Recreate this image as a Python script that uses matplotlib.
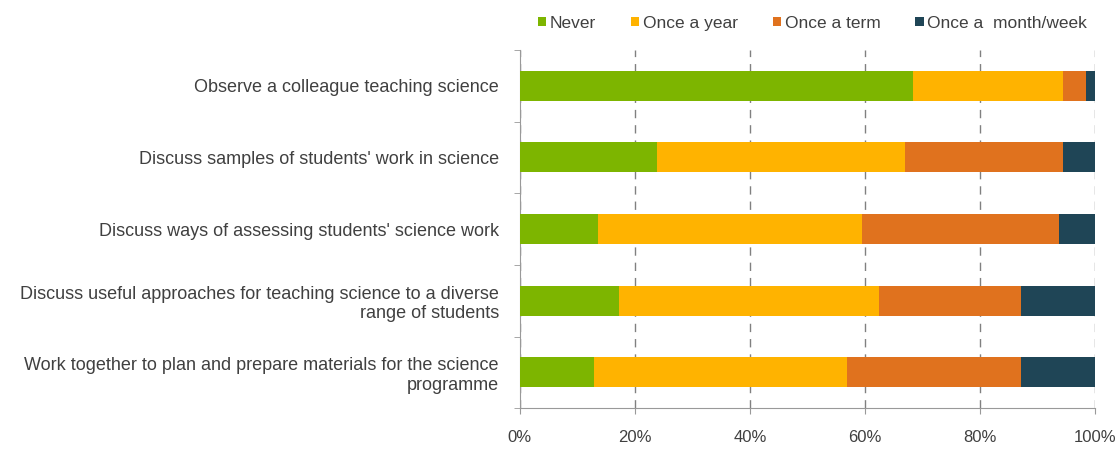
import numpy as np
import matplotlib
matplotlib.use("Agg")
import matplotlib.pyplot as plt
from matplotlib.patches import Patch

plt.rcParams["font.family"] = ["Liberation Sans", "DejaVu Sans"]

# Frequency of collaborative activities (% of teachers)
atividades = [
    "Observe a colleague teaching science",
    "Discuss samples of students' work in science",
    "Discuss ways of assessing students' science work",
    "Discuss useful approaches for teaching science to a diverse\nrange of students",
    "Work together to plan and prepare materials for the science\nprogramme",
]
never = [68.4, 23.9, 13.6, 17.2, 12.9]
once_year = [25.9, 43.1, 45.8, 45.2, 44.0]
once_term = [4.1, 27.4, 34.2, 24.6, 30.2]
month_week = [1.6, 5.6, 6.4, 13.0, 12.9]

series = ["Never", "Once a year", "Once a term", "Once a  month/week"]
cores = ["#7db500", "#ffb300", "#e0721e", "#1f4556"]
texto = "#404040"

fig = plt.figure(figsize=(11.2, 4.5), dpi=100)
ax = fig.add_axes([0.464, 0.093, 0.514, 0.796])

y = np.arange(len(atividades))
esquerda = np.zeros(len(atividades))
for nome, vals, cor in zip(series, [never, once_year, once_term, month_week], cores):
    ax.barh(y, vals, left=esquerda, height=0.42, color=cor, zorder=3)
    esquerda += np.array(vals)

ax.set_xlim(0, 100)
ax.set_ylim(len(atividades) - 0.5, -0.5)
ax.set_xticks(np.arange(0, 101, 20))
ax.set_xticklabels([f"{v}%" for v in range(0, 101, 20)], color=texto, fontsize=12)
ax.tick_params(axis="x", length=4, color="#999999", pad=12)

ax.set_yticks(y)
ax.set_yticklabels(atividades, color=texto, fontsize=13)
ax.tick_params(axis="y", which="major", length=0, pad=15)
ax.set_yticks(np.arange(-0.5, len(atividades) + 0.5, 1), minor=True)
ax.tick_params(axis="y", which="minor", length=4, color="#999999")

ax.grid(axis="x", linestyle=(0, (6, 5)), color="#808080", linewidth=1, zorder=0)
for lado in ["top", "right"]:
    ax.spines[lado].set_visible(False)
for lado in ["left", "bottom"]:
    ax.spines[lado].set_color("#999999")

handles = [Patch(facecolor=c, edgecolor="none") for c in cores]
fig.legend(handles, series, loc="upper left", bbox_to_anchor=(0.466, 1.0), ncol=4,
           frameon=False, fontsize=12.5, handlelength=0.5, handleheight=0.5,
           handletextpad=0.2, columnspacing=2.0, labelcolor=texto)

fig.savefig("out.png", dpi=100)
